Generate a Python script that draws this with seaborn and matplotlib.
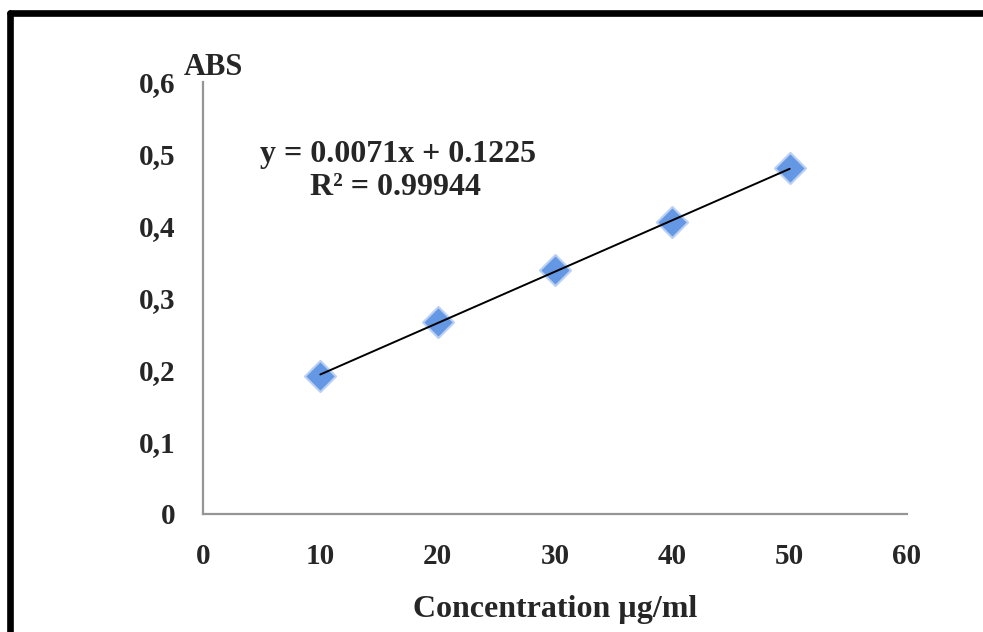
import matplotlib.pyplot as plt
import seaborn as sns
import pandas as pd
from matplotlib.lines import Line2D
from matplotlib.ticker import FuncFormatter

sns.set_theme(style="white")
plt.rcParams['font.family'] = ['Liberation Serif', 'DejaVu Serif']
plt.rcParams['font.weight'] = 'bold'

# data
concentration = [10, 20, 30, 40, 50]
absorbance = [0.192, 0.267, 0.339, 0.405, 0.480]
equation = "y = 0.0071x + 0.1225"
r_squared = "R² = 0.99944"

df = pd.DataFrame({"conc": concentration, "abs": absorbance})

fig = plt.figure(figsize=(9.83, 6.32), dpi=100)
fig.patch.set_facecolor("white")
ax = fig.add_axes([203 / 983, 1 - 514 / 632, 704 / 983, 432 / 632])

sns.regplot(
    data=df, x="conc", y="abs", ax=ax, ci=None, marker="D", truncate=True,
    scatter_kws={"s": 250, "color": "#6497e4", "edgecolors": "#b9d0f3",
                 "linewidths": 1.5, "alpha": 1, "zorder": 2},
    line_kws={"color": "black", "lw": 1.4, "zorder": 3},
)

ax.set_xlim(0, 60)
ax.set_ylim(0, 0.6)
ax.set_xticks(range(0, 61, 10))
ax.set_yticks([0, 0.1, 0.2, 0.3, 0.4, 0.5, 0.6])
ax.yaxis.set_major_formatter(
    FuncFormatter(lambda v, p: "0" if v == 0 else f"{v:.1f}".replace(".", ",")))

for side in ["top", "right"]:
    ax.spines[side].set_visible(False)
for side in ["left", "bottom"]:
    ax.spines[side].set_color("#959595")
    ax.spines[side].set_linewidth(1.6)

ax.tick_params(axis="both", which="major", direction="out", length=6,
               width=1.3, color="#959595", labelsize=21)
ax.tick_params(axis="y", pad=14)
ax.tick_params(axis="x", pad=15)
for lab in ax.get_xticklabels() + ax.get_yticklabels():
    lab.set_fontweight("bold")

ax.set_xlabel("")
ax.set_ylabel("")
fig.text(555 / 983, 1 - 617 / 632, "Concentration µg/ml", fontsize=23,
         fontweight="bold", ha="center", va="baseline")
fig.text(184 / 983, 1 - 75 / 632, "ABS", fontsize=22, fontweight="bold",
         ha="left", va="baseline")

fig.text(260 / 983, 1 - 162 / 632, equation, fontsize=23, fontweight="bold",
         ha="left", va="baseline")
fig.text(310 / 983, 1 - 195 / 632, r_squared, fontsize=23, fontweight="bold",
         ha="left", va="baseline")

# black frame along top and left edges
fig.add_artist(Line2D([10 / 983, 1], [1 - 13 / 632, 1 - 13 / 632],
                      transform=fig.transFigure, color="black", lw=4.8))
fig.add_artist(Line2D([10 / 983, 10 / 983], [0, 1 - 13 / 632],
                      transform=fig.transFigure, color="black", lw=4.8))

fig.savefig("out.png", dpi=100)
